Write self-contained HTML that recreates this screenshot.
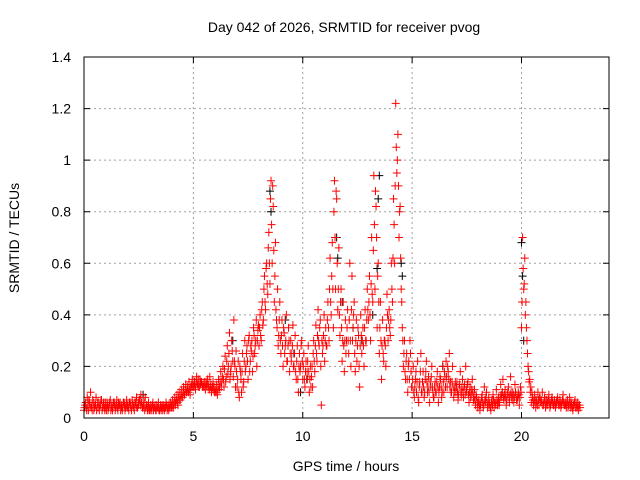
<!DOCTYPE html>
<html><head><meta charset="utf-8"><style>
html,body{margin:0;padding:0;background:#fff;}
svg{display:block;font-family:"Liberation Sans",sans-serif;}
</style></head><body>
<svg id="chart" width="640" height="480" viewBox="0 0 640 480" xmlns="http://www.w3.org/2000/svg">
<rect width="640" height="480" fill="#fff"/>
<text x="344" y="32" font-size="14" text-anchor="middle" fill="#000">Day 042 of 2026, SRMTID for receiver pvog</text>
<text x="346" y="471" font-size="14" text-anchor="middle" fill="#000">GPS time / hours</text>
<text x="0" y="0" font-size="14" text-anchor="middle" fill="#000" transform="translate(19,238) rotate(-90)">SRMTID / TECUs</text>
<g id="grid"></g>
<g id="black-series"></g>
<g id="red-series"></g>
<g id="axes"></g>
</svg>
<script>
const xTicks=[0,5,10,15,20];
const yTicks=[0,0.2,0.4,0.6,0.8,1,1.2,1.4];
const yTickLabels=["0","0.2","0.4","0.6","0.8","1","1.2","1.4"];
const redStart=0, redStep=0.05;
const redValues=[
0.03,0.05,0.04,0.08,0.03,0.06,0.1,0.04,0.07,0.03,0.05,0.08,0.04,0.06,0.03,0.05,0.07,0.04,0.06,0.03,
0.04,0.06,0.03,0.05,0.07,0.04,0.03,0.06,0.05,0.04,0.07,0.03,0.05,0.06,0.04,0.03,0.06,0.05,0.04,0.07,
0.05,0.03,0.06,0.04,0.07,0.05,0.03,0.06,0.08,0.04,0.05,0.07,0.09,0.05,0.04,0.06,0.08,0.05,0.03,0.06,
0.04,0.05,0.03,0.06,0.04,0.05,0.03,0.04,0.06,0.03,0.05,0.04,0.03,0.05,0.04,0.06,0.03,0.05,0.04,0.06,
0.05,0.07,0.04,0.08,0.06,0.09,0.05,0.1,0.07,0.11,0.08,0.12,0.09,0.13,0.1,0.11,0.14,0.09,0.12,0.15,
0.12,0.14,0.11,0.16,0.13,0.12,0.15,0.14,0.13,0.12,0.14,0.11,0.13,0.15,0.12,0.16,0.13,0.11,0.14,0.12,
0.1,0.13,0.09,0.15,0.12,0.18,0.14,0.2,0.12,0.24,0.16,0.28,0.2,0.33,0.18,0.3,0.22,0.38,0.2,0.26,
0.12,0.22,0.08,0.18,0.1,0.25,0.14,0.3,0.2,0.28,0.15,0.32,0.22,0.26,0.18,0.35,0.25,0.3,0.2,0.34,
0.28,0.4,0.3,0.45,0.38,0.55,0.42,0.6,0.48,0.72,0.52,0.92,0.6,0.82,0.45,0.68,0.38,0.5,0.32,0.45,
0.25,0.38,0.2,0.33,0.28,0.4,0.22,0.35,0.18,0.3,0.25,0.36,0.2,0.32,0.15,0.28,0.1,0.25,0.2,0.3,
0.15,0.25,0.12,0.22,0.18,0.28,0.1,0.2,0.16,0.12,0.3,0.18,0.36,0.22,0.42,0.28,0.38,0.05,0.25,0.32,
0.22,0.35,0.28,0.45,0.3,0.62,0.4,0.68,0.35,0.92,0.5,0.85,0.42,0.66,0.32,0.5,0.22,0.45,0.18,0.38,
0.3,0.42,0.25,0.6,0.2,0.55,0.35,0.45,0.18,0.38,0.28,0.32,0.12,0.4,0.25,0.35,0.2,0.42,0.3,0.5,
0.38,0.55,0.3,0.7,0.45,0.94,0.5,0.82,0.35,0.6,0.25,0.45,0.15,0.38,0.22,0.3,0.2,0.48,0.3,0.42,
0.32,0.6,0.45,0.85,0.6,1.22,0.95,1.1,0.7,0.82,0.5,0.35,0.2,0.3,0.15,0.25,0.1,0.22,0.3,0.18,
0.12,0.2,0.08,0.15,0.1,0.22,0.06,0.14,0.25,0.1,0.18,0.08,0.15,0.22,0.1,0.16,0.06,0.12,0.2,0.1,
0.08,0.14,0.1,0.18,0.06,0.12,0.15,0.08,0.2,0.1,0.16,0.22,0.12,0.18,0.25,0.14,0.1,0.2,0.08,0.12,
0.1,0.14,0.07,0.12,0.18,0.09,0.15,0.08,0.13,0.2,0.1,0.14,0.06,0.12,0.09,0.15,0.07,0.11,0.05,0.08,
0.04,0.07,0.03,0.06,0.09,0.04,0.12,0.06,0.1,0.04,0.08,0.05,0.03,0.07,0.09,0.04,0.06,0.11,0.05,0.08,
0.06,0.13,0.08,0.15,0.07,0.11,0.05,0.09,0.12,0.06,0.16,0.08,0.1,0.06,0.13,0.09,0.07,0.1,0.05,0.12,
0.35,0.7,0.5,0.62,0.45,0.3,0.2,0.14,0.1,0.06,0.08,0.05,0.09,0.04,0.07,0.1,0.05,0.08,0.06,0.1,
0.05,0.08,0.04,0.07,0.05,0.09,0.04,0.06,0.08,0.05,0.07,0.04,0.06,0.08,0.05,0.07,0.04,0.06,0.09,0.05,
0.06,0.04,0.07,0.05,0.08,0.04,0.06,0.03,0.05,0.07,0.04,0.06,0.03,0.05
];
const red2Start=0.025, red2Step=0.05;
const red2Values=[
0.04,0.06,0.03,0.05,0.07,0.04,0.05,0.03,0.06,0.04,0.05,0.03,0.06,0.04,0.05,0.07,0.03,0.05,0.04,0.06,
0.03,0.05,0.04,0.06,0.03,0.05,0.04,0.06,0.03,0.05,0.04,0.06,0.05,0.03,0.05,0.04,0.06,0.03,0.05,0.04,
0.04,0.06,0.05,0.03,0.05,0.04,0.06,0.05,0.04,0.06,0.07,0.05,0.06,0.04,0.05,0.03,0.04,0.05,0.04,0.03,
0.03,0.04,0.05,0.03,0.04,0.03,0.05,0.04,0.03,0.04,0.03,0.05,0.04,0.03,0.04,0.05,0.04,0.03,0.05,0.04,
0.04,0.05,0.06,0.05,0.07,0.06,0.08,0.07,0.09,0.08,0.1,0.09,0.11,0.1,0.12,0.1,0.11,0.12,0.13,0.12,
0.13,0.12,0.14,0.13,0.15,0.12,0.13,0.14,0.12,0.13,0.12,0.14,0.12,0.13,0.11,0.12,0.1,0.12,0.11,0.1,
0.11,0.1,0.12,0.11,0.14,0.12,0.16,0.15,0.19,0.14,0.22,0.17,0.25,0.15,0.2,0.26,0.16,0.22,0.12,0.18,
0.15,0.1,0.2,0.15,0.18,0.12,0.22,0.18,0.25,0.22,0.3,0.18,0.28,0.3,0.24,0.32,0.28,0.38,0.3,0.36,
0.35,0.32,0.42,0.36,0.5,0.45,0.58,0.52,0.66,0.6,0.85,0.75,0.9,0.65,0.55,0.42,0.35,0.28,0.38,0.3,
0.32,0.28,0.35,0.25,0.3,0.22,0.28,0.3,0.25,0.22,0.28,0.2,0.25,0.18,0.22,0.15,0.2,0.18,0.28,0.22,
0.2,0.15,0.18,0.15,0.22,0.18,0.15,0.12,0.2,0.25,0.22,0.28,0.25,0.32,0.3,0.35,0.2,0.3,0.28,0.4,
0.3,0.28,0.38,0.35,0.5,0.45,0.55,0.5,0.8,0.7,0.88,0.6,0.5,0.4,0.45,0.35,0.3,0.28,0.3,0.25,
0.35,0.3,0.38,0.3,0.42,0.3,0.4,0.25,0.3,0.22,0.35,0.2,0.28,0.32,0.3,0.28,0.35,0.3,0.38,0.42,
0.45,0.4,0.52,0.48,0.65,0.75,0.88,0.7,0.55,0.45,0.35,0.3,0.28,0.25,0.3,0.28,0.35,0.4,0.38,0.35,
0.38,0.5,0.62,0.75,0.9,1.05,1.0,0.9,0.8,0.62,0.45,0.3,0.25,0.18,0.22,0.15,0.2,0.15,0.25,0.12,
0.15,0.1,0.12,0.18,0.14,0.08,0.12,0.18,0.1,0.14,0.12,0.1,0.18,0.14,0.12,0.1,0.14,0.16,0.12,0.08,
0.12,0.1,0.14,0.12,0.1,0.16,0.12,0.1,0.14,0.18,0.12,0.16,0.2,0.15,0.12,0.1,0.14,0.12,0.1,0.14,
0.12,0.1,0.09,0.13,0.1,0.12,0.1,0.12,0.09,0.11,0.13,0.09,0.1,0.08,0.11,0.1,0.08,0.07,0.09,0.06,
0.06,0.05,0.05,0.08,0.06,0.05,0.07,0.08,0.06,0.05,0.06,0.04,0.06,0.05,0.07,0.06,0.05,0.07,0.06,0.05,
0.08,0.09,0.1,0.08,0.09,0.08,0.07,0.1,0.08,0.09,0.1,0.07,0.09,0.08,0.1,0.07,0.08,0.09,0.08,0.1,
0.45,0.58,0.52,0.4,0.35,0.25,0.18,0.15,0.12,0.1,0.07,0.06,0.07,0.06,0.05,0.07,0.08,0.06,0.07,0.05,
0.06,0.07,0.05,0.06,0.07,0.06,0.05,0.07,0.06,0.05,0.06,0.05,0.07,0.06,0.05,0.06,0.05,0.07,0.06,0.05,
0.05,0.06,0.04,0.05,0.06,0.05,0.04,0.05,0.06,0.04,0.05,0.04,0.05,0.04
];
const blackTimes=[2.7,6.8,8.5,8.55,9.2,9.9,11.55,11.6,11.8,12.3,13.4,13.45,13.5,14.5,14.55,16.4,20.0,20.05,20.1,9.6,10.2,12.7,13.2];
const blackValues=[0.09,0.3,0.88,0.8,0.38,0.1,0.7,0.62,0.45,0.35,0.58,0.85,0.94,0.6,0.55,0.2,0.68,0.55,0.3,0.25,0.15,0.3,0.4];

const L=84,R=609,T=57,B=418,XMAX=24,YMAX=1.4;
const xs=v=>L+(v/XMAX)*(R-L);
const ys=v=>B-(v/YMAX)*(B-T);
const NS="http://www.w3.org/2000/svg";
function mk(tag,attrs,parent){const e=document.createElementNS(NS,tag);for(const k in attrs)e.setAttribute(k,attrs[k]);parent.appendChild(e);return e;}
const grid=document.getElementById('grid'),axes=document.getElementById('axes');
xTicks.forEach(t=>{
  const x=xs(t);
  if(t>0){const g=mk('line',{x1:x,x2:x,y1:T,y2:B,stroke:'#a0a0a0','stroke-dasharray':'2,3'},grid);
  
  }
  const tk=mk('path',{d:`M${x},${B}v-6M${x},${T}v6`,stroke:'#000'},axes);
  
  
  const lb=mk('text',{x:x,y:B+23,'font-size':14,'text-anchor':'middle'},axes);
  lb.textContent=String(t);
  
  
});
yTicks.forEach((t,i)=>{
  const y=ys(t);
  if(t>0&&t<YMAX){const g=mk('line',{x1:L,x2:R,y1:y,y2:y,stroke:'#a0a0a0','stroke-dasharray':'2,3'},grid);
  
  }
  const tk=mk('path',{d:`M${L},${y}h6M${R},${y}h-6`,stroke:'#000'},axes);
  
  
  const lb=mk('text',{x:L-13,y:y+5,'font-size':14,'text-anchor':'end'},axes);
  lb.textContent=yTickLabels[i];
  
  
});
const frame=mk('rect',{x:L,y:T,width:R-L,height:B-T,fill:'none',stroke:'#000','stroke-width':1},axes);


function plus(x,y){return `M${x-4},${y}h8M${x},${y-4}v8`;}
let bd='';
blackTimes.forEach((t,i)=>{bd+=plus(xs(t),ys(blackValues[i]));});
const bp=mk('path',{d:bd,stroke:'#000','stroke-width':1,fill:'none'},document.getElementById('black-series'));


let rd='';
redValues.forEach((v,i)=>{rd+=plus(xs(redStart+i*redStep),ys(v));});
red2Values.forEach((v,i)=>{rd+=plus(xs(red2Start+i*red2Step),ys(v));});
const rp=mk('path',{d:rd,stroke:'#ff0000','stroke-width':1,fill:'none'},document.getElementById('red-series'));


</script>
</body></html>
